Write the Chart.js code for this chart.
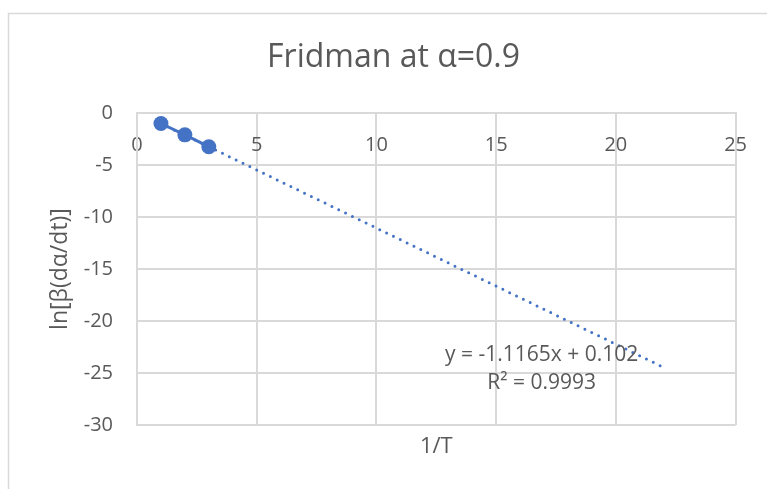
<!DOCTYPE html>
<html><head><meta charset="utf-8">
<script src="https://cdn.jsdelivr.net/npm/chart.js@4.4.0/dist/chart.umd.min.js"></script>
<style>html,body{margin:0;padding:0;background:#fff}#wrap{width:767px;height:489px;position:relative}</style>
</head><body><div id="wrap"><canvas id="c" width="767" height="489"></canvas></div>
<script>
const xValues = [1, 2, 3];
const yValues = [-1.01, -2.10, -3.24];
const trendX = [1, 21.9];
const trendY = [-1.01, -24.35];
const xTicks = [0, 5, 10, 15, 20, 25];
const yTicks = [0, -5, -10, -15, -20, -25, -30];
const chartTitle = 'Fridman at α=0.9';
const xTitle = '1/T';
const yTitle = 'ln[β(dα/dt)]';
const equationLines = ['y = -1.1165x + 0.102', 'R² = 0.9993'];
const equationAt = {x: 16.9, y: -23.25};

const FONT = "'Open Sans', sans-serif";
const TXT = '#595959';
const GRID = '#d9d9d9';
const BLUE = '#4472C4';

const framePlugin = {
  id: 'frame',
  beforeDraw(chart) {
    const ctx = chart.ctx;
    ctx.save();
    ctx.fillStyle = '#fff';
    ctx.fillRect(0, 0, chart.width, chart.height);
    ctx.strokeStyle = GRID;
    ctx.lineWidth = 1.5;
    ctx.beginPath();
    ctx.moveTo(8.5, chart.height + 2);
    ctx.lineTo(8.5, 13.5);
    ctx.lineTo(chart.width + 2, 13.5);
    ctx.stroke();
    ctx.restore();
  }
};

const equationPlugin = {
  id: 'equation',
  afterDatasetsDraw(chart) {
    const ctx = chart.ctx;
    const xs = chart.scales.x, ys = chart.scales.y;
    const px = xs.getPixelForValue(equationAt.x);
    const py = ys.getPixelForValue(equationAt.y);
    ctx.save();
    ctx.font = '21px ' + FONT;
    ctx.fillStyle = TXT;
    ctx.textAlign = 'center';
    ctx.textBaseline = 'middle';
    equationLines.forEach((t, i) => ctx.fillText(t, px, py + i * 28.6));
    ctx.restore();
  }
};

new Chart(document.getElementById('c'), {
  type: 'scatter',
  data: {
    datasets: [
      {
        data: xValues.map((x, i) => ({x: x, y: yValues[i]})),
        showLine: true,
        borderColor: BLUE,
        backgroundColor: BLUE,
        borderWidth: 3,
        pointRadius: 7.5,
        pointBorderWidth: 0,
        pointHoverRadius: 7.5
      },
      {
        data: trendX.map((x, i) => ({x: x, y: trendY[i]})),
        showLine: true,
        borderColor: BLUE,
        borderWidth: 3,
        borderDash: [0, 7.6],
        borderCapStyle: 'round',
        pointRadius: 0,
        pointHoverRadius: 0
      }
    ]
  },
  options: {
    responsive: false,
    animation: false,
    devicePixelRatio: 1,
    layout: {padding: {left: 20, right: 0, top: 0, bottom: 0}},
    plugins: {
      legend: {display: false},
      tooltip: {enabled: false},
      title: {
        display: true,
        text: chartTitle,
        color: TXT,
        font: {family: FONT, size: 32, weight: 'normal'},
        padding: {top: 39, bottom: 35.6}
      }
    },
    scales: {
      x: {
        type: 'linear',
        min: 0, max: 25,
        position: {y: 0},
        afterBuildTicks: s => { s.ticks = xTicks.map(v => ({value: v})); },
        ticks: {color: TXT, font: {family: FONT, size: 20}, padding: 20, maxRotation: 0},
        grid: {color: GRID, lineWidth: 2, drawTicks: false},
        border: {color: GRID, width: 2}
      },
      y: {
        type: 'linear',
        min: -30, max: 0,
        position: 'left',
        afterBuildTicks: s => { s.ticks = yTicks.map(v => ({value: v})); },
        afterFit: s => { s.width = 117; },
        ticks: {color: TXT, font: {family: FONT, size: 20}, padding: 24},
        grid: {color: GRID, lineWidth: 2, drawTicks: false},
        border: {color: GRID, width: 2},
        title: {display: true, text: yTitle, color: TXT, font: {family: FONT, size: 23}, padding: {top: 26.2, bottom: 0}}
      },
      x2: {
        type: 'linear',
        min: 0, max: 25,
        position: 'bottom',
        afterFit: s => { s.height = 64; },
        ticks: {display: false},
        grid: {display: false},
        border: {display: false},
        title: {display: true, text: xTitle, color: TXT, font: {family: FONT, size: 22}, padding: {top: 0, bottom: 28.8}}
      },
      y2: {
        type: 'linear',
        min: -30, max: 0,
        position: 'right',
        afterFit: s => { s.width = 30; },
        ticks: {display: false},
        grid: {display: false},
        border: {display: false}
      }
    }
  },
  plugins: [framePlugin, equationPlugin]
});
</script>
</body></html>
